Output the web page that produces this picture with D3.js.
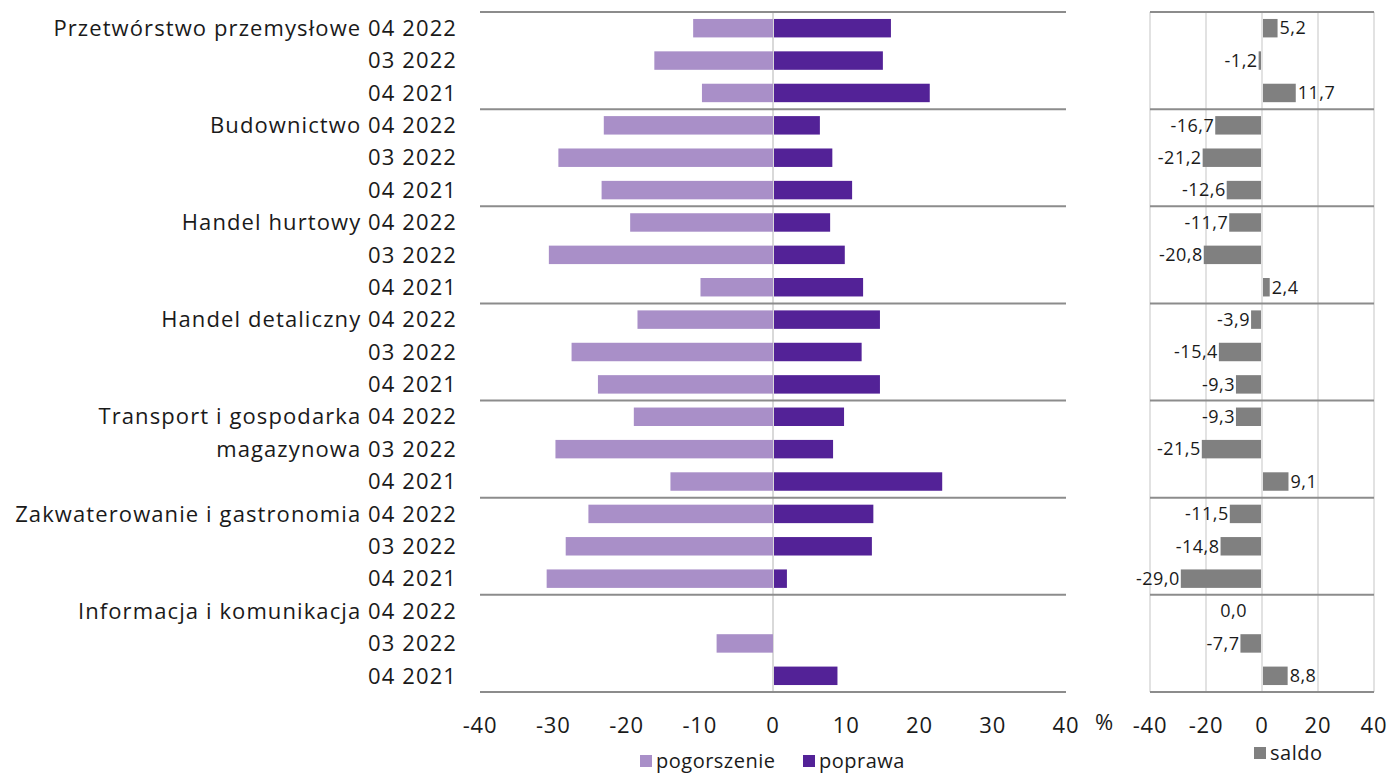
<!DOCTYPE html>
<html>
<head>
<meta charset="utf-8">
<script src="https://cdn.jsdelivr.net/npm/d3@7"></script>
<style>
  body { margin: 0; background: #fff; }
  svg { display: block; font-family: "Open Sans", sans-serif; }
</style>
</head>
<body>
<div id="chart"></div>
<script>
// row labels (category + period), top to bottom
const rowLabels = [
    "Przetwórstwo przemysłowe 04 2022", "03 2022", "04 2021",
    "Budownictwo 04 2022", "03 2022", "04 2021",
    "Handel hurtowy 04 2022", "03 2022", "04 2021",
    "Handel detaliczny 04 2022", "03 2022", "04 2021",
    "Transport i gospodarka 04 2022", "magazynowa 03 2022", "04 2021",
    "Zakwaterowanie i gastronomia 04 2022", "03 2022", "04 2021",
    "Informacja i komunikacja 04 2022", "03 2022", "04 2021"
];
const pogorszenie = [-10.9, -16.2, -9.7, -23.1, -29.3, -23.4, -19.5, -30.6, -9.9,
    -18.5, -27.5, -23.9, -19.0, -29.7, -14.0, -25.2, -28.3, -30.9, 0, -7.7, 0];
const poprawa = [16.1, 15.0, 21.4, 6.4, 8.1, 10.8, 7.8, 9.8, 12.3,
    14.6, 12.1, 14.6, 9.7, 8.2, 23.1, 13.7, 13.5, 1.9, 0, 0, 8.8];
const saldo = [5.2, -1.2, 11.7, -16.7, -21.2, -12.6, -11.7, -20.8, 2.4,
    -3.9, -15.4, -9.3, -9.3, -21.5, 9.1, -11.5, -14.8, -29.0, 0.0, -7.7, 8.8];
const leftTicks = [-40, -30, -20, -10, 0, 10, 20, 30, 40];
const rightTicks = [-40, -20, 0, 20, 40];

const width = 1390, height = 774;
const plotTop = 12, plotBottom = 692;
const colPog = "#a98fc8", colPop = "#532297", colSaldo = "#808080";
const sepColor = "#8c8c8c", gridColor = "#d9d9d9", textColor = "#1a1a1a";

const svg = d3.select("#chart").append("svg")
    .attr("width", width).attr("height", height);

const y = d3.scaleBand()
    .domain(d3.range(rowLabels.length))
    .range([plotTop, plotBottom])
    .paddingInner(0.43).paddingOuter(0.215);

const rowStep = (plotBottom - plotTop) / rowLabels.length;
const groupBounds = d3.range(0, rowLabels.length + 1, 3).map(i => plotTop + i * rowStep);

const xL = d3.scaleLinear().domain([-40, 40]).range([480, 1066]);
const xR = d3.scaleLinear().domain([-40, 40]).range([1150, 1374]);

// ---- left panel ----
const left = svg.append("g");

left.append("line")
    .attr("x1", xL(0)).attr("x2", xL(0))
    .attr("y1", plotTop).attr("y2", plotBottom)
    .attr("stroke", gridColor).attr("stroke-width", 2);

left.selectAll(".sep").data(groupBounds).join("line")
    .attr("x1", xL(-40)).attr("x2", xL(40))
    .attr("y1", d => d).attr("y2", d => d)
    .attr("stroke", sepColor).attr("stroke-width", 2);

left.selectAll(".pog").data(pogorszenie).join("rect")
    .attr("x", d => xL(Math.min(0, d)))
    .attr("y", (d, i) => y(i))
    .attr("width", d => Math.abs(xL(d) - xL(0)))
    .attr("height", y.bandwidth())
    .attr("fill", colPog);

left.selectAll(".pop").data(poprawa).join("rect")
    .attr("x", xL(0) + 1)
    .attr("y", (d, i) => y(i))
    .attr("width", d => d > 0 ? xL(d) - xL(0) - 1 : 0)
    .attr("height", y.bandwidth())
    .attr("fill", colPop);

left.selectAll(".rowlab").data(rowLabels).join("text")
    .attr("x", 457)
    .attr("y", (d, i) => y(i) + y.bandwidth() / 2)
    .attr("dy", "0.35em")
    .attr("text-anchor", "end")
    .style("font-size", "22px")
    .style("letter-spacing", "1.1px")
    .style("fill", textColor)
    .text(d => d);

left.selectAll(".tick").data(leftTicks).join("text")
    .attr("x", d => xL(d))
    .attr("y", 725)
    .attr("dy", "0.35em")
    .attr("text-anchor", "middle")
    .style("font-size", "22px")
    .style("letter-spacing", "0.8px")
    .style("fill", textColor)
    .text(d => d);

svg.append("text")
    .attr("x", 1104).attr("y", 722).attr("dy", "0.35em")
    .attr("text-anchor", "middle")
    .style("font-size", "22px").style("fill", textColor)
    .text("%");

// legend left
const legItems = [
    { name: "pogorszenie", color: colPog, x: 640 },
    { name: "poprawa", color: colPop, x: 803 }
];
const leg = svg.selectAll(".leg").data(legItems).join("g")
    .attr("transform", d => `translate(${d.x}, 761)`);
leg.append("rect")
    .attr("x", 0).attr("y", -6).attr("width", 12).attr("height", 12)
    .attr("fill", d => d.color);
leg.append("text")
    .attr("x", 16).attr("dy", "0.35em")
    .style("font-size", "20px").style("letter-spacing", "0.5px")
    .style("fill", textColor)
    .text(d => d.name);

// ---- right panel ----
const right = svg.append("g");

right.selectAll(".grid").data(rightTicks).join("line")
    .attr("x1", d => xR(d)).attr("x2", d => xR(d))
    .attr("y1", plotTop).attr("y2", plotBottom)
    .attr("stroke", gridColor).attr("stroke-width", 1.5);

right.selectAll(".sep").data(groupBounds).join("line")
    .attr("x1", xR(-40)).attr("x2", xR(40))
    .attr("y1", d => d).attr("y2", d => d)
    .attr("stroke", sepColor).attr("stroke-width", 2);

right.selectAll(".saldo").data(saldo).join("rect")
    .attr("x", d => d < 0 ? xR(d) : xR(0) + 1)
    .attr("y", (d, i) => y(i))
    .attr("width", d => d < 0 ? xR(0) - xR(d) - 1 : xR(d) - xR(0))
    .attr("height", y.bandwidth())
    .attr("fill", colSaldo);

const fmt = v => v.toFixed(1).replace(".", ",");
right.selectAll(".slab").data(saldo).join("text")
    .attr("x", d => d < 0 ? xR(d) - 1 : (d > 0 ? xR(d) + 3 : xR(0) - 15))
    .attr("y", (d, i) => y(i) + y.bandwidth() / 2)
    .attr("dy", "0.35em")
    .attr("text-anchor", d => d <= 0 ? "end" : "start")
    .style("font-size", "18px")
    .style("letter-spacing", "0.5px")
    .style("fill", textColor)
    .text(d => fmt(d));

right.selectAll(".tick").data(rightTicks).join("text")
    .attr("x", d => xR(d))
    .attr("y", 725)
    .attr("dy", "0.35em")
    .attr("text-anchor", "middle")
    .style("font-size", "22px")
    .style("letter-spacing", "0.8px")
    .style("fill", textColor)
    .text(d => d);

const legR = svg.append("g").attr("transform", "translate(1254, 753)");
legR.append("rect")
    .attr("x", 0).attr("y", -6).attr("width", 12).attr("height", 12)
    .attr("fill", colSaldo);
legR.append("text")
    .attr("x", 16).attr("dy", "0.35em")
    .style("font-size", "20px").style("letter-spacing", "0.5px")
    .style("fill", textColor)
    .text("saldo");
</script>
</body>
</html>
